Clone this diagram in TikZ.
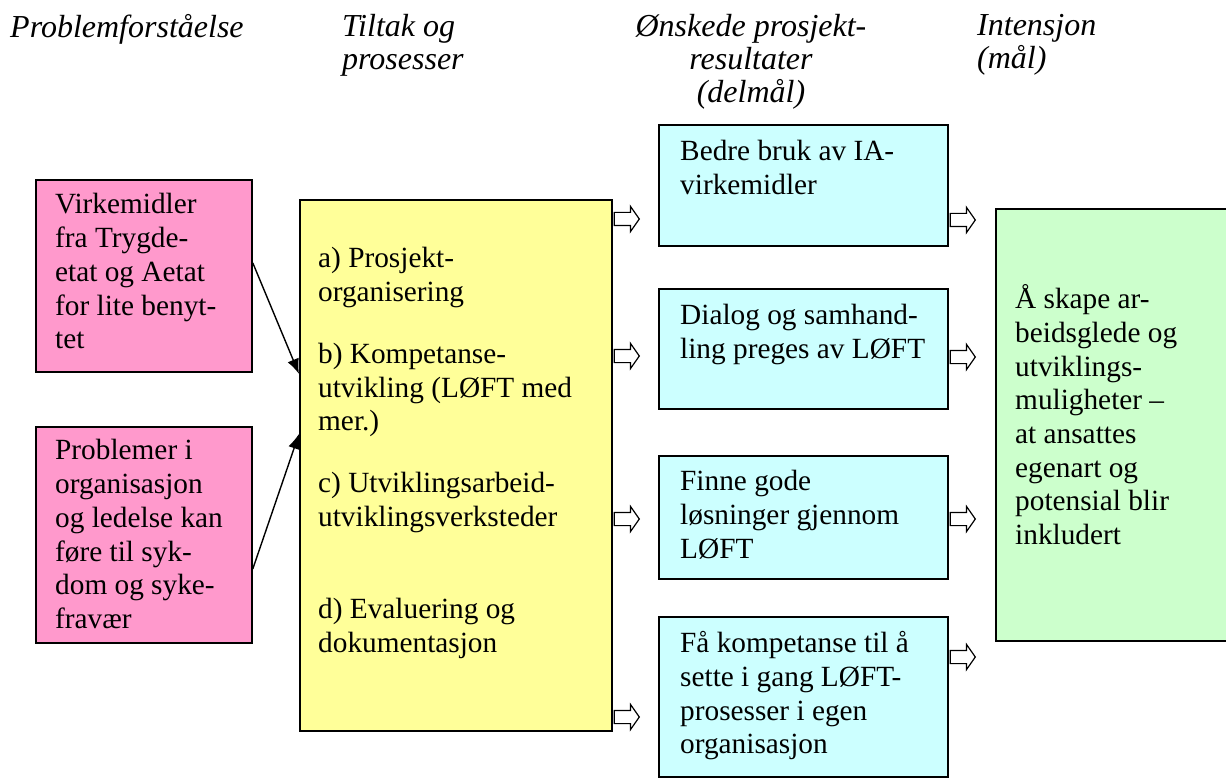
\documentclass[tikz,border=0pt]{standalone}
\usepackage{fontspec}
\setmainfont{Liberation Serif}
\usepackage{tikz}
\usetikzlibrary{shapes,arrows,arrows.meta,positioning,calc}
\usepackage{xcolor}

\definecolor{problempink}{HTML}{FF99CC}
\definecolor{tiltakyellow}{HTML}{FFFF99}
\definecolor{resultcyan}{HTML}{CCFFFF}
\definecolor{maalgreen}{HTML}{CCFFCC}

\newcommand{\bodytext}{\fontsize{29.3}{33.7}\selectfont}
\newcommand{\headtext}{\fontsize{32}{33.3}\selectfont\itshape}

\tikzset{
  box/.style={draw, line width=1.8pt, anchor=north west, inner sep=0pt},
  txt/.style={anchor=north west, inner sep=0pt, align=left, font=\bodytext, execute at begin node=\strut},
  head/.style={anchor=north west, inner sep=0pt, align=left, font=\headtext, execute at begin node=\strut},
  hollow/.style={single arrow, draw, fill=white, line width=1.2pt, inner xsep=0pt, inner ysep=6pt,
    minimum height=25pt, single arrow head extend=6pt, single arrow tip angle=110, anchor=tail},
  link/.style={-{Latex[length=15pt,width=12pt]}, line width=1.4pt},
}

\begin{document}
\begin{tikzpicture}[x=1pt,y=-1pt]
    \useasboundingbox (0,0) rectangle (1226,778);

    % Headings
    \node[head] (hProblem) at (10,13.7) {Problemforståelse};
    \node[head] (hTiltak) at (342,13.7) {Tiltak og\\prosesser};
    \node[head, anchor=north, align=center] (hResultat) at (751,13.7) {Ønskede prosjekt-\\resultater\\(delmål)};
    \node[head] (hMaal) at (977,13.7) {Intensjon\\(mål)};

    % Problem boxes
    \node[box, fill=problempink, minimum width=216, minimum height=192] (pinkA) at (35,179) {};
    \node[txt] (pinkAtext) at (55,193.4) {Virkemidler\\fra Trygde-\\etat og Aetat\\for lite benyt-\\tet};
    \node[box, fill=problempink, minimum width=216, minimum height=216] (pinkB) at (35,426) {};
    \node[txt] (pinkBtext) at (55,439.4) {Problemer i\\organisasjon\\og ledelse kan\\føre til syk-\\dom og syke-\\fravær};

    % Tiltak
    \node[box, fill=tiltakyellow, minimum width=312, minimum height=531] (tiltak) at (299,199) {};
    \node[txt] (tiltaktext) at (318,247.4) {a) Prosjekt-\\organisering\\[28pt]
        b) Kompetanse-\\utvikling (LØFT med\\mer.)\\[28pt]
        c) Utviklingsarbeid-\\utviklingsverksteder\\[59pt]
        d) Evaluering og\\dokumentasjon};

    % Resultater
    \node[box, fill=resultcyan, minimum width=289, minimum height=121] (resA) at (658,124) {};
    \node[txt] (resAtext) at (680,140.4) {Bedre bruk av IA-\\virkemidler};
    \node[box, fill=resultcyan, minimum width=289, minimum height=120] (resB) at (658,288) {};
    \node[txt] (resBtext) at (680,304.4) {Dialog og samhand-\\ling preges av LØFT};
    \node[box, fill=resultcyan, minimum width=289, minimum height=123] (resC) at (658,455) {};
    \node[txt] (resCtext) at (680,470.4) {Finne gode\\løsninger gjennom\\LØFT};
    \node[box, fill=resultcyan, minimum width=289, minimum height=160] (resD) at (658,616) {};
    \node[txt] (resDtext) at (680,631.4) {Få kompetanse til å\\sette i gang LØFT-\\prosesser i egen\\organisasjon};

    % Intensjon
    \node[box, fill=maalgreen, minimum width=245, minimum height=432] (maal) at (995,208) {};
    \node[txt] (maaltext) at (1015,284.4) {Å skape ar-\\beidsglede og\\utviklings-\\muligheter --\\at ansattes\\egenart og\\potensial blir\\inkludert};

    % Arrows
    \draw[link] ([yshift=13pt]pinkA.east) -- ([yshift=91.5pt]tiltak.west);
    \draw[link] ([yshift=-34pt]pinkB.east) -- ([yshift=31.5pt]tiltak.west);

    \node[hollow] (tA) at ([xshift=0.9pt]tiltak.east |- 0,219) {};
    \node[hollow] (tB) at ([xshift=0.9pt]tiltak.east |- 0,356) {};
    \node[hollow] (tC) at ([xshift=0.9pt]tiltak.east |- 0,519) {};
    \node[hollow] (tD) at ([xshift=0.9pt]tiltak.east |- 0,717) {};

    \node[hollow] (rA) at ([xshift=0.9pt]resA.east |- 0,220) {};
    \node[hollow] (rB) at ([xshift=0.9pt]resB.east |- 0,357) {};
    \node[hollow] (rC) at ([xshift=0.9pt]resC.east |- 0,519) {};
    \node[hollow] (rD) at ([xshift=0.9pt]resD.east |- 0,657) {};
\end{tikzpicture}
\end{document}
